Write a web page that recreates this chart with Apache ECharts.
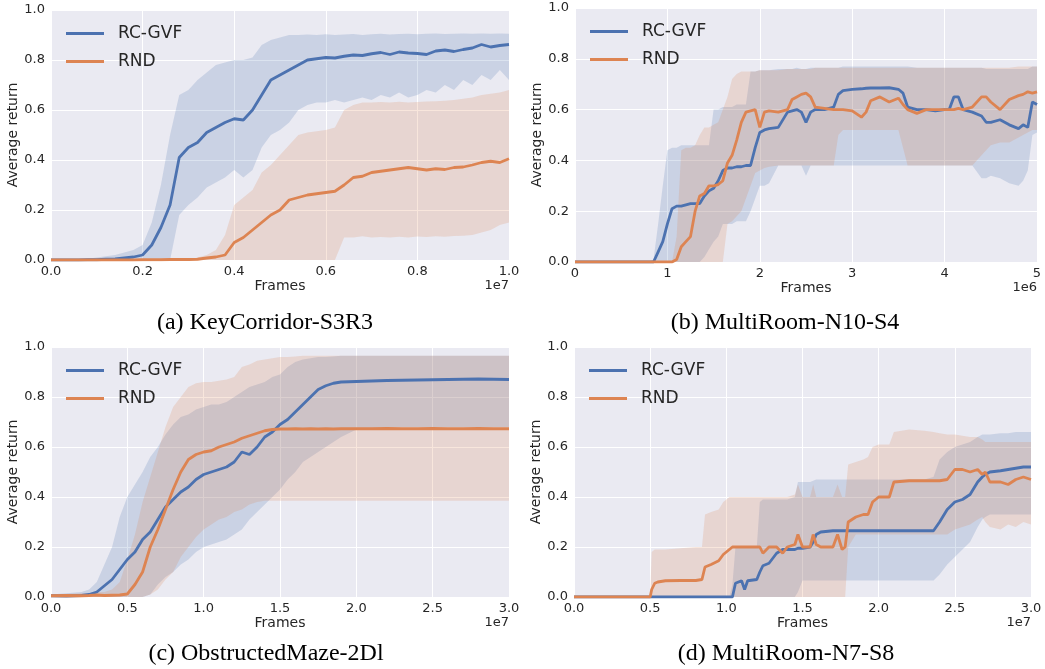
<!DOCTYPE html>
<html><head><meta charset="utf-8">
<script src="https://cdn.jsdelivr.net/npm/echarts@6/dist/echarts.min.js"></script>
<style>html,body{margin:0;padding:0;background:#fff}#c{width:1045px;height:669px}</style>
</head><body><div id="c"></div><script>
// ---------- (a) KeyCorridor-S3R3, frames in units of 1e7 ----------
const A_FRAMES = [0,0.02,0.04,0.06,0.08,0.10,0.12,0.14,0.16,0.18,0.20,0.22,0.24,0.26,0.28,0.30,0.32,0.34,0.36,0.38,0.40,0.42,0.44,0.46,0.48,0.50,0.52,0.54,0.56,0.58,0.60,0.62,0.64,0.66,0.68,0.70,0.72,0.74,0.76,0.78,0.80,0.82,0.84,0.86,0.88,0.90,0.92,0.94,0.96,0.98,1.00];
const A_RCGVF_MEAN = [0,0,0,0,0.001,0.001,0.003,0.004,0.008,0.012,0.02,0.06,0.13,0.22,0.41,0.45,0.47,0.51,0.53,0.55,0.565,0.56,0.6,0.66,0.72,0.74,0.76,0.78,0.8,0.805,0.81,0.808,0.815,0.82,0.818,0.825,0.83,0.822,0.832,0.828,0.826,0.822,0.836,0.84,0.834,0.842,0.848,0.862,0.852,0.858,0.862];
const A_RCGVF_LO = [0,0,0,0,0,0,0,0,0,0,0,0,0,0,0.18,0.22,0.25,0.29,0.31,0.33,0.36,0.33,0.36,0.45,0.5,0.52,0.55,0.6,0.62,0.63,0.63,0.64,0.63,0.64,0.65,0.64,0.66,0.65,0.67,0.65,0.66,0.68,0.67,0.7,0.68,0.72,0.7,0.74,0.72,0.76,0.72];
const A_RCGVF_HI = [0,0,0,0.002,0.005,0.01,0.015,0.02,0.03,0.04,0.06,0.15,0.3,0.5,0.66,0.68,0.72,0.75,0.78,0.79,0.8,0.8,0.81,0.86,0.88,0.89,0.9,0.9,0.902,0.9,0.903,0.9,0.902,0.904,0.9,0.903,0.905,0.902,0.904,0.905,0.903,0.905,0.906,0.904,0.905,0.906,0.905,0.906,0.905,0.906,0.905];
const A_RND_MEAN = [0,0,0,0,0,0,0,0,0,0,0.001,0.001,0.001,0.002,0.002,0.002,0.003,0.008,0.012,0.02,0.07,0.09,0.12,0.15,0.18,0.2,0.24,0.25,0.26,0.265,0.27,0.275,0.3,0.33,0.335,0.35,0.355,0.36,0.365,0.37,0.365,0.36,0.365,0.362,0.37,0.372,0.38,0.39,0.395,0.39,0.405];
const A_RND_LO = [0,0,0,0,0,0,0,0,0,0,0,0,0,0,0,0,0,0,0,0,0,0,0,0,0,0,0,0,0,0,0,0,0.09,0.09,0.095,0.09,0.092,0.09,0.093,0.09,0.094,0.092,0.095,0.093,0.096,0.097,0.1,0.11,0.12,0.14,0.15];
const A_RND_HI = [0,0,0,0,0,0,0,0,0,0,0,0,0,0,0,0,0.01,0.02,0.04,0.1,0.22,0.25,0.28,0.35,0.38,0.42,0.46,0.5,0.51,0.515,0.52,0.53,0.6,0.62,0.63,0.63,0.632,0.63,0.633,0.63,0.632,0.634,0.635,0.637,0.64,0.645,0.65,0.66,0.665,0.67,0.68];

// ---------- (b) MultiRoom-N10-S4, frames in units of 1e6 ----------
const B_FRAMES = [0,0.4,0.8,0.85,0.9,0.95,1.0,1.05,1.1,1.15,1.2,1.25,1.3,1.35,1.4,1.45,1.5,1.55,1.6,1.65,1.7,1.75,1.8,1.85,1.9,1.95,2.0,2.05,2.1,2.2,2.3,2.35,2.4,2.45,2.5,2.55,2.6,2.7,2.8,2.85,2.9,3.0,3.1,3.15,3.2,3.3,3.4,3.5,3.55,3.6,3.7,3.8,3.9,4.0,4.05,4.1,4.15,4.2,4.3,4.4,4.45,4.5,4.6,4.7,4.8,4.85,4.9,4.95,5.0];
const B_RCGVF_MEAN = [0,0,0,0,0.04,0.08,0.15,0.21,0.22,0.22,0.225,0.23,0.23,0.23,0.26,0.28,0.29,0.32,0.36,0.37,0.37,0.375,0.375,0.38,0.38,0.45,0.51,0.52,0.525,0.53,0.59,0.595,0.6,0.59,0.55,0.59,0.6,0.6,0.61,0.66,0.675,0.68,0.682,0.684,0.685,0.685,0.686,0.68,0.665,0.61,0.6,0.6,0.595,0.6,0.6,0.65,0.65,0.6,0.59,0.575,0.55,0.55,0.56,0.54,0.525,0.54,0.53,0.63,0.62];
const B_RCGVF_LO = [0,0,0,0,0,0,0,0,0,0,0,0,0,0,0.02,0.05,0.08,0.1,0.15,0.15,0.15,0.16,0.16,0.16,0.2,0.25,0.3,0.3,0.31,0.38,0.38,0.38,0.38,0.38,0.34,0.38,0.38,0.38,0.38,0.38,0.38,0.38,0.38,0.38,0.38,0.38,0.38,0.38,0.38,0.38,0.38,0.38,0.38,0.38,0.38,0.38,0.38,0.38,0.38,0.33,0.33,0.34,0.33,0.31,0.3,0.32,0.36,0.5,0.51];
const B_RCGVF_HI = [0,0,0,0.01,0.15,0.3,0.44,0.45,0.45,0.46,0.46,0.46,0.46,0.46,0.46,0.46,0.6,0.6,0.61,0.61,0.61,0.62,0.62,0.62,0.75,0.75,0.755,0.755,0.755,0.76,0.76,0.76,0.765,0.76,0.76,0.765,0.765,0.765,0.765,0.765,0.77,0.77,0.77,0.77,0.77,0.77,0.77,0.77,0.77,0.77,0.765,0.765,0.765,0.765,0.765,0.765,0.765,0.765,0.765,0.765,0.76,0.76,0.76,0.76,0.76,0.76,0.76,0.77,0.77];
const B_RND_MEAN = [0,0,0,0,0,0,0,0,0.01,0.06,0.08,0.1,0.2,0.26,0.27,0.3,0.3,0.305,0.32,0.39,0.42,0.48,0.55,0.59,0.595,0.6,0.53,0.59,0.595,0.59,0.6,0.64,0.65,0.66,0.665,0.65,0.61,0.605,0.6,0.6,0.6,0.595,0.57,0.59,0.635,0.65,0.63,0.645,0.62,0.6,0.585,0.6,0.6,0.6,0.6,0.6,0.605,0.6,0.61,0.65,0.65,0.63,0.6,0.64,0.655,0.66,0.67,0.665,0.67];
const B_RND_LO = [0,0,0,0,0,0,0,0,0,0,0,0,0,0,0,0,0,0,0,0.15,0.16,0.18,0.2,0.25,0.3,0.35,0.36,0.37,0.375,0.38,0.38,0.38,0.38,0.38,0.38,0.38,0.38,0.38,0.38,0.5,0.52,0.52,0.52,0.52,0.52,0.52,0.52,0.52,0.45,0.38,0.38,0.38,0.38,0.38,0.38,0.38,0.38,0.38,0.38,0.42,0.44,0.46,0.47,0.47,0.49,0.5,0.51,0.52,0.52];
const B_RND_HI = [0,0,0,0,0,0,0,0,0.1,0.44,0.45,0.45,0.46,0.5,0.53,0.53,0.54,0.55,0.6,0.65,0.72,0.74,0.75,0.75,0.75,0.75,0.755,0.755,0.755,0.755,0.76,0.76,0.76,0.76,0.76,0.76,0.765,0.765,0.765,0.765,0.765,0.765,0.765,0.765,0.765,0.765,0.765,0.765,0.765,0.765,0.765,0.765,0.765,0.765,0.765,0.765,0.765,0.765,0.765,0.765,0.765,0.765,0.765,0.765,0.77,0.77,0.77,0.77,0.77];

// ---------- (c) ObstructedMaze-2Dl, frames in units of 1e7 ----------
const C_FRAMES = [0,0.1,0.2,0.25,0.3,0.35,0.4,0.45,0.5,0.55,0.6,0.65,0.7,0.75,0.8,0.85,0.9,0.95,1.0,1.05,1.1,1.15,1.2,1.25,1.3,1.35,1.4,1.45,1.5,1.55,1.6,1.65,1.7,1.75,1.8,1.85,1.9,2.0,2.1,2.2,2.3,2.4,2.5,2.6,2.7,2.8,2.9,3.0];
const C_RCGVF_MEAN = [0.005,0.004,0.006,0.01,0.02,0.045,0.07,0.11,0.15,0.18,0.23,0.26,0.31,0.36,0.39,0.42,0.44,0.47,0.49,0.5,0.51,0.52,0.54,0.58,0.57,0.6,0.64,0.66,0.69,0.71,0.74,0.77,0.8,0.83,0.845,0.855,0.86,0.862,0.864,0.866,0.867,0.868,0.869,0.87,0.871,0.872,0.871,0.87];
const C_RCGVF_LO = [0,0,0,0,0,0,0,0,0,0,0,0.01,0.05,0.08,0.1,0.13,0.15,0.18,0.2,0.21,0.22,0.23,0.25,0.27,0.31,0.34,0.37,0.4,0.43,0.47,0.5,0.54,0.56,0.58,0.6,0.62,0.64,0.67,0.675,0.678,0.68,0.68,0.68,0.68,0.68,0.68,0.68,0.68];
const C_RCGVF_HI = [0.01,0.015,0.02,0.03,0.06,0.13,0.2,0.32,0.4,0.45,0.5,0.56,0.6,0.65,0.69,0.72,0.73,0.75,0.76,0.77,0.77,0.78,0.8,0.82,0.84,0.85,0.86,0.88,0.89,0.92,0.94,0.95,0.955,0.96,0.96,0.962,0.965,0.965,0.965,0.965,0.965,0.965,0.965,0.965,0.965,0.965,0.965,0.965];
const C_RND_MEAN = [0.005,0.006,0.005,0.006,0.008,0.006,0.007,0.008,0.012,0.05,0.1,0.2,0.27,0.35,0.43,0.5,0.55,0.57,0.58,0.585,0.6,0.61,0.62,0.635,0.645,0.655,0.665,0.67,0.672,0.672,0.673,0.672,0.673,0.672,0.673,0.672,0.673,0.673,0.673,0.674,0.673,0.673,0.674,0.673,0.673,0.674,0.673,0.673];
const C_RND_LO = [0,0,0,0,0,0,0,0,0,0,0,0.01,0.03,0.07,0.1,0.16,0.2,0.24,0.27,0.29,0.31,0.32,0.34,0.35,0.37,0.38,0.385,0.385,0.385,0.385,0.385,0.385,0.385,0.385,0.385,0.385,0.385,0.385,0.385,0.385,0.385,0.385,0.385,0.385,0.385,0.385,0.385,0.385];
const C_RND_HI = [0.01,0.012,0.015,0.015,0.02,0.02,0.03,0.06,0.15,0.25,0.38,0.48,0.58,0.68,0.76,0.8,0.84,0.855,0.86,0.86,0.865,0.87,0.88,0.92,0.93,0.945,0.95,0.955,0.96,0.96,0.962,0.965,0.965,0.965,0.965,0.965,0.965,0.965,0.965,0.965,0.965,0.965,0.965,0.965,0.965,0.965,0.965,0.965];

// ---------- (d) MultiRoom-N7-S8, frames in units of 1e7 ----------
const D_FRAMES = [0,0.5,0.51,0.53,0.55,0.6,0.7,0.8,0.84,0.86,0.9,0.95,0.98,1.02,1.04,1.06,1.1,1.12,1.14,1.2,1.22,1.24,1.28,1.33,1.37,1.4,1.45,1.47,1.5,1.55,1.57,1.59,1.62,1.7,1.73,1.76,1.78,1.8,1.85,1.9,1.93,1.96,2.0,2.07,2.1,2.2,2.3,2.36,2.4,2.45,2.5,2.55,2.6,2.65,2.68,2.7,2.73,2.8,2.85,2.9,2.95,3.0];
const D_RCGVF_MEAN = [0,0,0,0,0,0,0,0,0,0, 0,0,0,0,0,0.055,0.065,0.03,0.065,0.07, 0.1,0.125,0.135,0.175,0.19,0.19,0.19,0.195,0.195,0.2, 0.22,0.25,0.26,0.265,0.265,0.265,0.265,0.265,0.265,0.265, 0.265,0.265,0.265,0.265,0.265,0.265,0.265,0.265,0.3,0.35, 0.38,0.39,0.41,0.46,0.48,0.49,0.5,0.505,0.51,0.515, 0.52,0.52];
const D_RCGVF_LO = [0,0,0,0,0,0,0,0,0,0, 0,0,0,0,0,0,0,0,0,0, 0,0,0,0,0,0,0,0.02,0.066,0.066, 0.066,0.066,0.066,0.066,0.066,0.066,0.066,0.066,0.066,0.066, 0.066,0.066,0.066,0.066,0.066,0.066,0.066,0.066,0.09,0.13, 0.16,0.19,0.22,0.28,0.31,0.32,0.33,0.33,0.33,0.33, 0.33,0.33];
const D_RCGVF_HI = [0,0,0,0,0,0,0,0,0,0, 0,0,0,0,0.05,0.2,0.2,0.2,0.2,0.2, 0.38,0.39,0.39,0.39,0.39,0.39,0.4,0.46,0.46,0.46, 0.465,0.47,0.47,0.47,0.47,0.47,0.47,0.47,0.47,0.47, 0.47,0.47,0.47,0.47,0.47,0.47,0.47,0.48,0.55,0.58, 0.6,0.61,0.62,0.64,0.65,0.65,0.65,0.655,0.655,0.66, 0.66,0.66];
const D_RND_MEAN = [0,0,0.03,0.055,0.06,0.065,0.066,0.066,0.07,0.12, 0.13,0.145,0.17,0.19,0.2,0.2,0.2,0.2,0.2,0.2, 0.2,0.175,0.2,0.2,0.175,0.2,0.21,0.25,0.2,0.2, 0.25,0.21,0.2,0.2,0.25,0.19,0.2,0.3,0.32,0.33, 0.33,0.38,0.4,0.4,0.46,0.465,0.465,0.465,0.465,0.47, 0.51,0.51,0.5,0.51,0.49,0.5,0.46,0.46,0.45,0.47, 0.48,0.47];
const D_RND_LO = [0,0,0,0,0,0,0,0,0,0, 0,0,0,0,0,0,0,0,0,0, 0,0,0,0,0,0,0,0,0,0, 0,0,0,0,0,0,0,0.2,0.25,0.25, 0.25,0.25,0.25,0.25,0.25,0.25,0.25,0.25,0.25,0.25, 0.27,0.28,0.29,0.31,0.32,0.3,0.28,0.27,0.29,0.28, 0.3,0.29];
const D_RND_HI = [0,0,0.18,0.19,0.19,0.19,0.195,0.2,0.2,0.33, 0.34,0.35,0.38,0.4,0.4,0.4,0.4,0.4,0.4,0.4, 0.4,0.4,0.4,0.4,0.4,0.4,0.41,0.45,0.4,0.4, 0.45,0.4,0.4,0.4,0.45,0.4,0.4,0.53,0.54,0.55, 0.56,0.6,0.61,0.61,0.66,0.67,0.665,0.66,0.655,0.65, 0.65,0.645,0.64,0.64,0.63,0.62,0.62,0.62,0.62,0.62, 0.62,0.62];

// ---------- labels ----------
const SERIES_NAMES = ['RC-GVF', 'RND'];
const CAPTIONS = ['(a) KeyCorridor-S3R3', '(b) MultiRoom-N10-S4', '(c) ObstructedMaze-2Dl', '(d) MultiRoom-N7-S8'];
const X_OFFSET_LABELS = ['1e7', '1e6', '1e7', '1e7'];
const X_MAX = [1.0, 5, 3.0, 3.0];
const X_INTERVAL = [0.2, 1, 0.5, 0.5];
const X_DECIMALS = [1, 0, 1, 1];

const BLUE = '#4C72B0', ORANGE = '#DD8452', TXT = '#262626', FONT = 'DejaVu Sans';
const GRIDS = [
  {left: 51, top: 10, width: 458, height: 250},
  {left: 575, top: 8, width: 462, height: 254},
  {left: 51, top: 347, width: 458, height: 250},
  {left: 574, top: 347, width: 457, height: 250}
];
const CAPTION_POS = [[265, 323], [785, 323], [266, 654], [786, 654]];
const PANELS = [
  [A_FRAMES, A_RCGVF_MEAN, A_RCGVF_LO, A_RCGVF_HI, A_RND_MEAN, A_RND_LO, A_RND_HI],
  [B_FRAMES, B_RCGVF_MEAN, B_RCGVF_LO, B_RCGVF_HI, B_RND_MEAN, B_RND_LO, B_RND_HI],
  [C_FRAMES, C_RCGVF_MEAN, C_RCGVF_LO, C_RCGVF_HI, C_RND_MEAN, C_RND_LO, C_RND_HI],
  [D_FRAMES, D_RCGVF_MEAN, D_RCGVF_LO, D_RCGVF_HI, D_RND_MEAN, D_RND_LO, D_RND_HI]
];

// Shaded band between lo and hi, drawn as one polygon through the axis scales.
function band(gi, frames, lo, hi, color) {
  const rows = frames.map((x, i) => [x, lo[i], hi[i]]);
  return {
    type: 'custom', xAxisIndex: gi, yAxisIndex: gi, silent: true, z: 1,
    data: rows, encode: {x: 0, y: [1, 2]},
    renderItem: function (params, api) {
      if (params.dataIndex !== 0) return null;
      const pts = [];
      for (let i = 0; i < rows.length; i++) pts.push(api.coord([rows[i][0], rows[i][2]]));
      for (let i = rows.length - 1; i >= 0; i--) pts.push(api.coord([rows[i][0], rows[i][1]]));
      return {type: 'polygon', shape: {points: pts}, style: {fill: color, opacity: 0.2}};
    }
  };
}
function meanLine(gi, frames, vals, name, color) {
  return {type: 'line', name: name, xAxisIndex: gi, yAxisIndex: gi, symbol: 'none', showSymbol: false, silent: true,
    data: frames.map((x, i) => [x, vals[i]]), itemStyle: {color: color},
    lineStyle: {color: color, width: 2.8}, z: 3};
}

const series = [];
PANELS.forEach((p, gi) => {
  const [f, bm, bl, bh, om, ol, oh] = p;
  series.push(band(gi, f, bl, bh, BLUE));
  series.push(band(gi, f, ol, oh, ORANGE));
});
PANELS.forEach((p, gi) => {
  const [f, bm, bl, bh, om, ol, oh] = p;
  series.push(meanLine(gi, f, bm, SERIES_NAMES[0], BLUE));
  series.push(meanLine(gi, f, om, SERIES_NAMES[1], ORANGE));
});

const graphic = [];
GRIDS.forEach((g, gi) => {
  graphic.push({type: 'text', x: CAPTION_POS[gi][0], y: CAPTION_POS[gi][1],
    style: {text: CAPTIONS[gi], font: '24px "Liberation Serif"', fill: '#000',
      align: 'center', verticalAlign: 'middle', textAlign: 'center', textVerticalAlign: 'middle'}});
  graphic.push({type: 'text', x: g.left + g.width, y: g.top + g.height + 19,
    style: {text: X_OFFSET_LABELS[gi], font: '13px "DejaVu Sans"', fill: TXT,
      align: 'right', verticalAlign: 'top', textAlign: 'right', textVerticalAlign: 'top'}});
});

const option = {
  animation: false,
  backgroundColor: '#ffffff',
  grid: GRIDS.map(g => Object.assign({show: true, backgroundColor: '#EAEAF2', borderWidth: 0, containLabel: false}, g)),
  xAxis: GRIDS.map((g, gi) => ({
    gridIndex: gi, type: 'value', min: 0, max: X_MAX[gi], interval: X_INTERVAL[gi],
    axisLine: {show: false}, axisTick: {show: false},
    splitLine: {show: true, lineStyle: {color: '#ffffff', width: 1}},
    axisLabel: {color: TXT, fontSize: 13, fontFamily: FONT, margin: 5, showMinLabel: true, showMaxLabel: true,
      formatter: v => v.toFixed(X_DECIMALS[gi])},
    name: 'Frames', nameLocation: 'middle', nameGap: 18,
    nameTextStyle: {color: TXT, fontSize: 14, fontFamily: FONT}
  })),
  yAxis: GRIDS.map((g, gi) => ({
    gridIndex: gi, type: 'value', min: 0, max: 1, interval: 0.2,
    axisLine: {show: false}, axisTick: {show: false},
    splitLine: {show: true, lineStyle: {color: '#ffffff', width: 1}},
    axisLabel: {color: TXT, fontSize: 13, fontFamily: FONT, margin: 6, showMinLabel: true, showMaxLabel: true,
      formatter: v => v.toFixed(1)},
    name: 'Average return', nameLocation: 'middle', nameGap: 31,
    nameTextStyle: {color: TXT, fontSize: 14, fontFamily: FONT}
  })),
  legend: GRIDS.map(g => ({
    data: SERIES_NAMES, orient: 'vertical', left: g.left + 15, top: g.top + 15, padding: 0,
    icon: 'rect', itemWidth: 38, itemHeight: 3, itemGap: 11, selectedMode: false,
    textStyle: {color: TXT, fontSize: 17, fontFamily: FONT, padding: [0, 0, 0, 9]}
  })),
  graphic: graphic,
  series: series
};
const chart = echarts.init(document.getElementById('c'), null, {renderer: 'canvas'});
chart.setOption(option);
</script></body></html>
